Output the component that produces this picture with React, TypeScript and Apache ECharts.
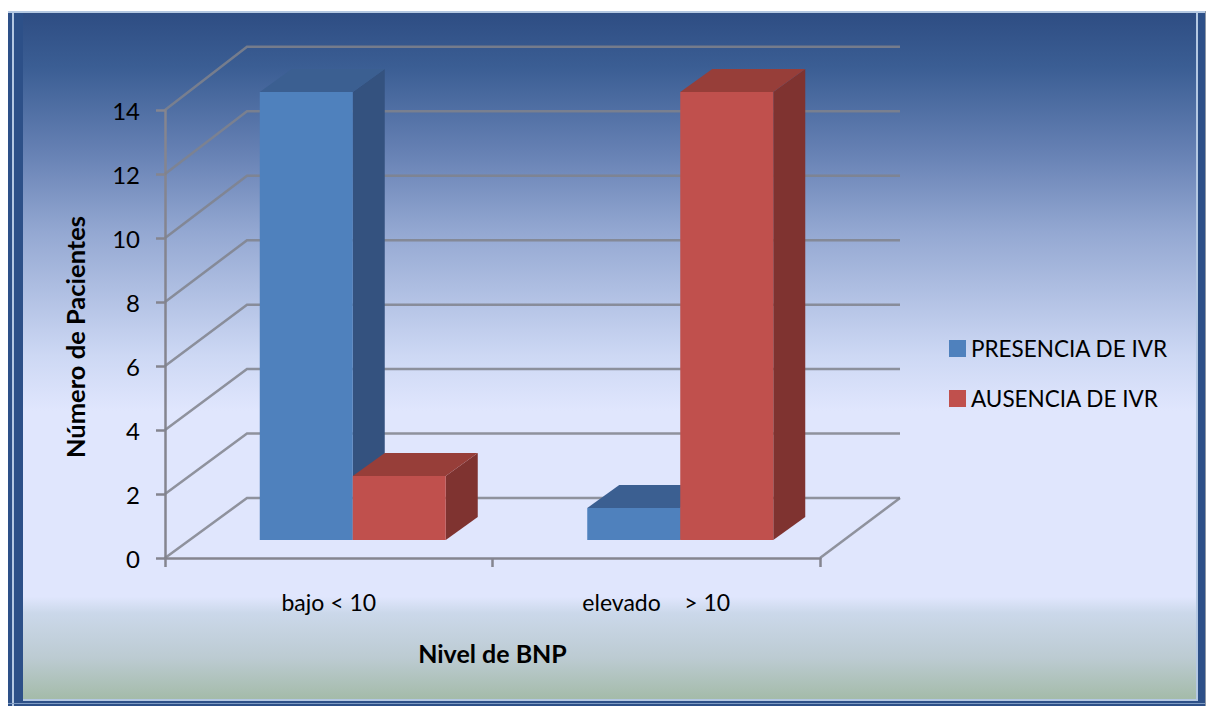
import React, { useEffect, useRef } from "react";
import * as echarts from "echarts";

const categories = ["bajo < 10", "elevado    > 10"];
const presencia = [14, 1];
const ausencia = [2, 14];
const yTicks = [0, 2, 4, 6, 8, 10, 12, 14];

const SERIES_BLUE = "PRESENCIA DE IVR";
const SERIES_RED = "AUSENCIA DE IVR";
const FONT = "Lato, 'Open Sans', sans-serif";

// Oblique projection of the 3D plot box.
const WALL_DX = 82;
const WALL_DY = -60;
const WALL_SCALE = 1.007;
const WALL_RIGHT = 900;
const BAR_SHIFT_X = 24;
const BAR_SHIFT_Y = -18;
const BAR_W = 93;
const SIDE_DX = 32;
const SIDE_DY = -23;
const GRID_COLOR = "rgba(128,130,140,0.85)";
const AXIS_COLOR = "#85858f";

const blueFaces = { front: "#4f81bd", side: "#34527f", top: "#3b5f91" };
const redFaces = { front: "#c0504d", side: "#7f3330", top: "#973e39" };

// Draws one extruded bar; the value comes through the chart's own scale.
function barRenderer(faces: typeof blueFaces, offset: number) {
  return (_params: any, api: any) => {
    const cat = api.value(0);
    const [cx, y0] = api.coord([cat, 0]);
    const [, y1] = api.coord([cat, api.value(1)]);
    const left = cx + BAR_SHIFT_X + offset * BAR_W;
    const right = left + BAR_W;
    const bottom = y0 + BAR_SHIFT_Y;
    const top = y1 + BAR_SHIFT_Y;
    const poly = (points: number[][], fill: string) => ({
      type: "polygon",
      shape: { points },
      style: { fill },
    });
    return {
      type: "group",
      children: [
        poly(
          [
            [right, top],
            [right + SIDE_DX, top + SIDE_DY],
            [right + SIDE_DX, bottom + SIDE_DY],
            [right, bottom],
          ],
          faces.side
        ),
        poly(
          [
            [left, top],
            [left + SIDE_DX, top + SIDE_DY],
            [right + SIDE_DX, top + SIDE_DY],
            [right, top],
          ],
          faces.top
        ),
        poly(
          [
            [left, top],
            [right, top],
            [right, bottom],
            [left, bottom],
          ],
          faces.front
        ),
      ],
    };
  };
}

// Side wall, back wall and floor lines of the plot box.
function wallRenderer(_params: any, api: any) {
  const [x0, y] = api.coord([0, api.value(0)]);
  const [, yBase] = api.coord([0, 0]);
  const left = x0 - api.size([1, 0])[0] / 2;
  const backY = yBase + WALL_DY + (y - yBase) * WALL_SCALE;
  return {
    type: "polyline",
    shape: {
      points: [
        [left, y],
        [left + WALL_DX, backY],
        [WALL_RIGHT, backY],
      ],
    },
    style: { fill: "none", stroke: GRID_COLOR, lineWidth: 2.5 },
  };
}

function floorRenderer(_params: any, api: any) {
  const [x1, y] = api.coord([1, 0]);
  const right = x1 + api.size([1, 0])[0] / 2;
  return {
    type: "line",
    shape: { x1: right, y1: y, x2: WALL_RIGHT, y2: y + WALL_DY },
    style: { stroke: GRID_COLOR, lineWidth: 2.5 },
  };
}

export default function App() {
  const ref = useRef<HTMLDivElement>(null);
  useEffect(() => {
    const chart = echarts.init(ref.current!, undefined, { renderer: "svg" });
    const frameRect = (x: number, y: number, width: number, height: number, fill: any) => ({
      type: "rect",
      shape: { x, y, width, height },
      style: { fill },
      silent: true,
      z: -10,
    });
    const FRAME_DARK = "#2d5088";
    const FRAME_LIGHT = "#b4c8e2";
    chart.setOption({
      animation: false,
      backgroundColor: "#ffffff",
      textStyle: { fontFamily: FONT },
      graphic: [
        frameRect(8, 11, 1198, 695, FRAME_DARK),
        frameRect(12, 11, 2, 695, FRAME_LIGHT),
        frameRect(8, 11, 1198, 2, FRAME_LIGHT),
        frameRect(1196, 11, 2, 690, FRAME_LIGHT),
        frameRect(23, 699, 1175, 2, FRAME_LIGHT),
        frameRect(8, 703, 1198, 1, "#7f9cc4"),
        frameRect(1205, 11, 1, 695, "#8d97a6"),
        frameRect(23, 13, 1173, 686, {
          type: "linear",
          x: 0,
          y: 0,
          x2: 0,
          y2: 1,
          colorStops: [
            { offset: 0, color: "#2e4d83" },
            { offset: 0.08, color: "#3b5e94" },
            { offset: 0.2, color: "#6580b3" },
            { offset: 0.32, color: "#94a8d2" },
            { offset: 0.5, color: "#cdd8f4" },
            { offset: 0.58, color: "#e0e6fd" },
            { offset: 0.851, color: "#e0e6fd" },
            { offset: 0.875, color: "#cbd8ea" },
            { offset: 0.94, color: "#bccbd2" },
            { offset: 1, color: "#a4bba9" },
          ],
        }),
      ],
      grid: { left: 165, top: 110, width: 655, height: 448 },
      legend: {
        left: 949,
        top: 337,
        padding: 0,
        orient: "vertical",
        itemWidth: 17,
        itemHeight: 17,
        itemGap: 27,
        icon: "rect",
        selectedMode: false,
        textStyle: { fontFamily: FONT, fontSize: 22.5, color: "#000", padding: [0, 0, 0, 0] },
        data: [SERIES_BLUE, SERIES_RED],
      },
      xAxis: {
        type: "category",
        data: categories,
        name: "Nivel de BNP",
        nameLocation: "middle",
        nameGap: 82,
        nameTextStyle: { fontFamily: FONT, fontSize: 25, fontWeight: "bold", color: "#000" },
        axisLine: { lineStyle: { color: AXIS_COLOR, width: 2.5 } },
        axisTick: { show: true, length: 9, lineStyle: { color: AXIS_COLOR, width: 2.5 } },
        axisLabel: { fontFamily: FONT, fontSize: 23, color: "#000", margin: 32 },
      },
      yAxis: {
        type: "value",
        min: 0,
        max: 14,
        interval: 2,
        name: "Número de Pacientes",
        nameLocation: "middle",
        nameGap: 77,
        nameTextStyle: {
          fontFamily: FONT,
          fontSize: 25.5,
          fontWeight: "bold",
          color: "#000",
          padding: [0, 6, 0, 0],
        },
        splitLine: { show: false },
        axisLine: { show: true, lineStyle: { color: AXIS_COLOR, width: 2.5 } },
        axisTick: { show: true, length: 9, lineStyle: { color: AXIS_COLOR, width: 2.5 } },
        axisLabel: { fontFamily: FONT, fontSize: 24, color: "#000", margin: 25 },
      },
      series: [
        {
          name: "wall",
          type: "custom",
          renderItem: wallRenderer,
          data: yTicks.map((v) => [v]),
          encode: { y: 0 },
          silent: true,
          z: 1,
        },
        {
          name: "floor",
          type: "custom",
          renderItem: floorRenderer,
          data: [[0]],
          silent: true,
          z: 1,
        },
        {
          name: SERIES_BLUE,
          type: "custom",
          renderItem: barRenderer(blueFaces, -1),
          itemStyle: { color: blueFaces.front },
          data: presencia.map((v, i) => [i, v]),
          encode: { x: 0, y: 1 },
          z: 3,
        },
        {
          name: SERIES_RED,
          type: "custom",
          renderItem: barRenderer(redFaces, 0),
          itemStyle: { color: redFaces.front },
          data: ausencia.map((v, i) => [i, v]),
          encode: { x: 0, y: 1 },
          z: 4,
        },
      ],
    });
    return () => chart.dispose();
  }, []);
  return <div ref={ref} style={{ position: "fixed", left: 0, top: 0, width: 1210, height: 706 }} />;
}
